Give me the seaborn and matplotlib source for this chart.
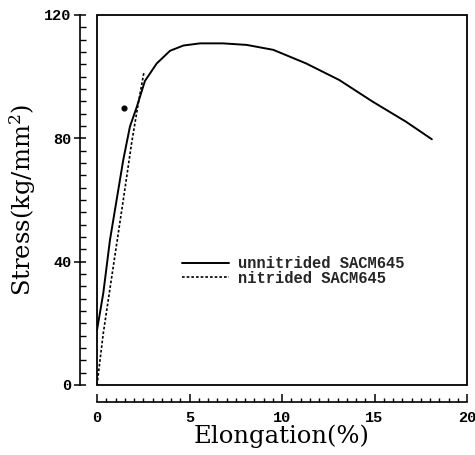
import matplotlib
matplotlib.use("Agg")
import matplotlib.pyplot as plt
from matplotlib.patches import Rectangle
from matplotlib.ticker import MultipleLocator
import seaborn as sns
import pandas as pd

# Stress-strain curves (elongation in %, stress in kg/mm^2)
unnitrided_elong = [0.0, 0.34, 0.70, 1.06, 1.42, 1.78, 2.14, 2.59, 3.23, 3.95, 4.67,
                    5.57, 6.8, 8.09, 9.53, 11.3, 13.1, 14.9, 16.7, 18.1]
unnitrided_stress = [17.8, 29.8, 47.0, 60.0, 73.0, 83.8, 90.0, 98.6, 104.3, 108.4, 110.1,
                     110.8, 110.8, 110.3, 108.7, 104.3, 98.9, 91.9, 85.4, 79.7]

nitrided_elong = [0.0, 0.34, 0.88, 1.42, 1.87, 2.23, 2.54]
nitrided_stress = [0.0, 16.8, 38.4, 60.0, 78.4, 91.3, 101.5]

# Isolated data point near the elastic region
point_elong = [1.48]
point_stress = [89.7]

series_labels = ["unnitrided SACM645", "nitrided SACM645"]
x_ticks = [0, 5, 10, 15, 20]
y_ticks = [0, 40, 80, 120]

sns.set_theme(style="white")
plt.rcParams["mathtext.fontset"] = "dejavuserif"

fig = plt.figure(figsize=(4.75, 4.55), dpi=100)
ax = fig.add_axes([97 / 475, 70 / 455, 370 / 475, 370 / 455])

df_u = pd.DataFrame({"x": unnitrided_elong, "y": unnitrided_stress})
df_n = pd.DataFrame({"x": nitrided_elong, "y": nitrided_stress})

sns.lineplot(data=df_u, x="x", y="y", ax=ax, color="black", lw=1.4,
             sort=False, estimator=None, label=series_labels[0])
sns.lineplot(data=df_n, x="x", y="y", ax=ax, color="black", lw=1.2,
             linestyle=(0, (1.6, 1.2)), sort=False, estimator=None,
             label=series_labels[1])
ax.plot(point_elong, point_stress, "o", color="black", ms=3.4)

ax.set_xlim(x_ticks[0], x_ticks[-1])
ax.set_ylim(y_ticks[0], y_ticks[-1])

# Plot frame
ax.add_patch(Rectangle((0, 0), 1, 1, transform=ax.transAxes, fill=False,
                       lw=1.3, edgecolor="black", clip_on=False, zorder=5))
ax.spines["top"].set_visible(False)
ax.spines["right"].set_visible(False)

# Detached scale axes
for side in ("left", "bottom"):
    sp = ax.spines[side]
    sp.set_visible(True)
    sp.set_position(("outward", 12.5))
    sp.set_color("black")
    sp.set_linewidth(1.2)

ax.set_xticks(x_ticks)
ax.set_yticks(y_ticks)
ax.xaxis.set_minor_locator(MultipleLocator(0.5))
ax.yaxis.set_minor_locator(MultipleLocator(4))

ax.tick_params(axis="x", which="major", direction="in", length=6, width=1.1,
               color="black", pad=6, bottom=True)
ax.tick_params(axis="x", which="minor", direction="in", length=3, width=1.0,
               color="black", bottom=True)
ax.tick_params(axis="y", which="major", direction="inout", length=8, width=1.1,
               color="black", pad=2, left=True)
ax.tick_params(axis="y", which="minor", direction="in", length=4, width=1.0,
               color="black", left=True)

for lab in ax.get_xticklabels() + ax.get_yticklabels():
    lab.set_fontfamily("Liberation Mono")
    lab.set_fontweight("bold")
    lab.set_fontsize(11)
    lab.set_color("black")

ax.set_xlabel("Elongation(%)", fontfamily="DejaVu Serif", fontsize=17.5,
              color="black", labelpad=0)
ax.set_ylabel("Stress(kg/mm$^2$)", fontfamily="DejaVu Serif", fontsize=17.5,
              color="black", labelpad=4)

leg = ax.legend(loc="center left", bbox_to_anchor=(182 / 475, 1 - 271 / 455),
                bbox_transform=fig.transFigure, frameon=False, borderpad=0,
                borderaxespad=0, handlelength=3.0, handletextpad=0.6,
                labelspacing=-0.05,
                prop={"family": "Liberation Mono", "weight": "bold", "size": 11.2})

fig.savefig("out.png", dpi=100, facecolor="white")
